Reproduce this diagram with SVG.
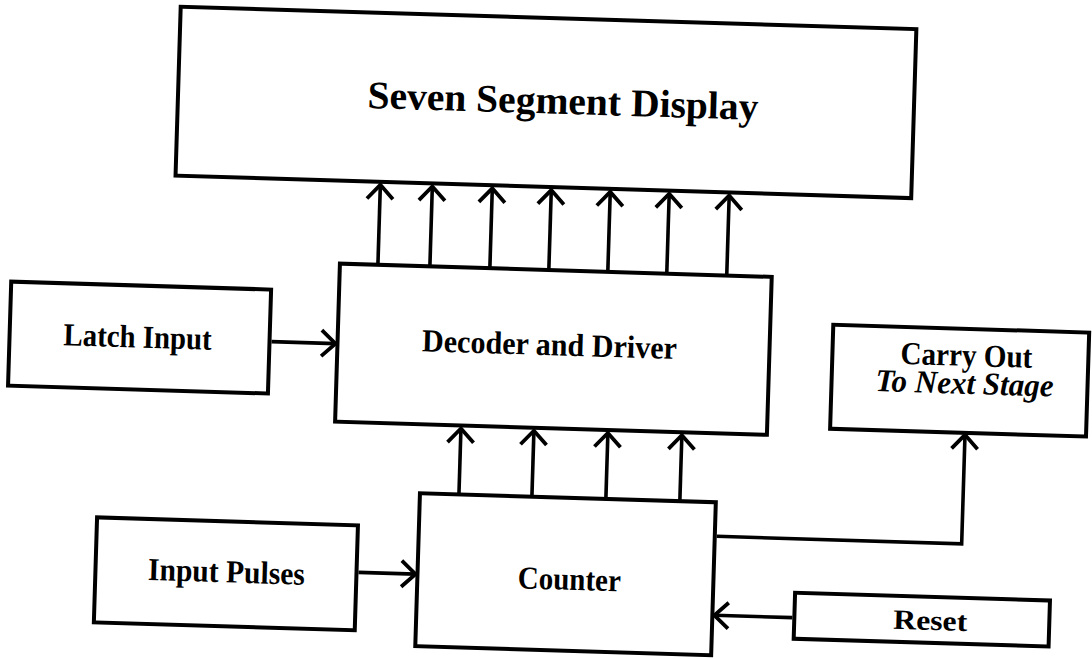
<svg xmlns="http://www.w3.org/2000/svg" width="1092" height="659" viewBox="0 0 1092 659">
  <style>
    .box { fill: #ffffff; stroke: #000000; stroke-width: 4; }
    .lbl { font-family: "Liberation Serif", "Times New Roman", serif; font-weight: bold; fill: #000000; text-anchor: middle; }
    .it { font-style: italic; }
    .wire { fill: none; stroke: #000000; stroke-width: 3.6; }
  </style>
  <defs>
    <marker id="ah" viewBox="-18 -16 22 32" refX="0" refY="0" markerWidth="22" markerHeight="32" markerUnits="userSpaceOnUse" orient="auto">
      <path d="M-14,-13 L0,0 L-14,13" fill="none" stroke="#000000" stroke-width="3.8"/>
    </marker>
  </defs>
  <rect x="0" y="0" width="1092" height="659" fill="#ffffff"/>
  <g transform="rotate(1.75 546 330)">
    <g id="display">
      <rect class="box" x="171" y="18" width="736" height="169"/>
      <text class="lbl" x="556" y="113.5" font-size="39" textLength="391" lengthAdjust="spacingAndGlyphs">Seven Segment Display</text>
    </g>
    <g id="decoder">
      <rect class="box" x="338" y="270" width="432" height="158"/>
      <text class="lbl" x="550" y="355" font-size="32" textLength="255" lengthAdjust="spacingAndGlyphs">Decoder and Driver</text>
    </g>
    <g id="latch">
      <rect class="box" x="10" y="298" width="260" height="104"/>
      <text class="lbl" x="138" y="360" font-size="32" textLength="148" lengthAdjust="spacingAndGlyphs">Latch Input</text>
    </g>
    <g id="carry">
      <rect class="box" x="833" y="316" width="256" height="104"/>
      <text class="lbl" x="967" y="353" font-size="32" textLength="132" lengthAdjust="spacingAndGlyphs">Carry Out</text>
      <text class="lbl it" x="966" y="381" font-size="32" textLength="178" lengthAdjust="spacingAndGlyphs">To Next Stage</text>
    </g>
    <g id="counter">
      <rect class="box" x="425" y="497" width="296" height="153"/>
      <text class="lbl" x="577" y="589" font-size="32" textLength="103" lengthAdjust="spacingAndGlyphs">Counter</text>
    </g>
    <g id="input">
      <rect class="box" x="103" y="531" width="261" height="105"/>
      <text class="lbl" x="234" y="592" font-size="32" textLength="157" lengthAdjust="spacingAndGlyphs">Input Pulses</text>
    </g>
    <g id="reset">
      <rect class="box" x="803" y="585" width="255" height="46"/>
      <text class="lbl" x="939" y="618" font-size="28" textLength="74" lengthAdjust="spacingAndGlyphs">Reset</text>
    </g>
    <g id="connectors">
      <path class="wire" d="M376,270 V190" marker-end="url(#ah)"/>
      <path class="wire" d="M428,270 V190" marker-end="url(#ah)"/>
      <path class="wire" d="M488,270 V190" marker-end="url(#ah)"/>
      <path class="wire" d="M547,270 V190" marker-end="url(#ah)"/>
      <path class="wire" d="M606,270 V190" marker-end="url(#ah)"/>
      <path class="wire" d="M665,270 V190" marker-end="url(#ah)"/>
      <path class="wire" d="M725,270 V190" marker-end="url(#ah)"/>
      <path class="wire" d="M464,497 V431" marker-end="url(#ah)"/>
      <path class="wire" d="M537,497 V431" marker-end="url(#ah)"/>
      <path class="wire" d="M611,497 V431" marker-end="url(#ah)"/>
      <path class="wire" d="M685,497 V431" marker-end="url(#ah)"/>
      <path class="wire" d="M272,350 H336" marker-end="url(#ah)"/>
      <path class="wire" d="M366,578 H423" marker-end="url(#ah)"/>
      <path class="wire" d="M801,610 H723" marker-end="url(#ah)"/>
      <path class="wire" d="M723,531 H968 V422" marker-end="url(#ah)"/>
    </g>
  </g>
</svg>
